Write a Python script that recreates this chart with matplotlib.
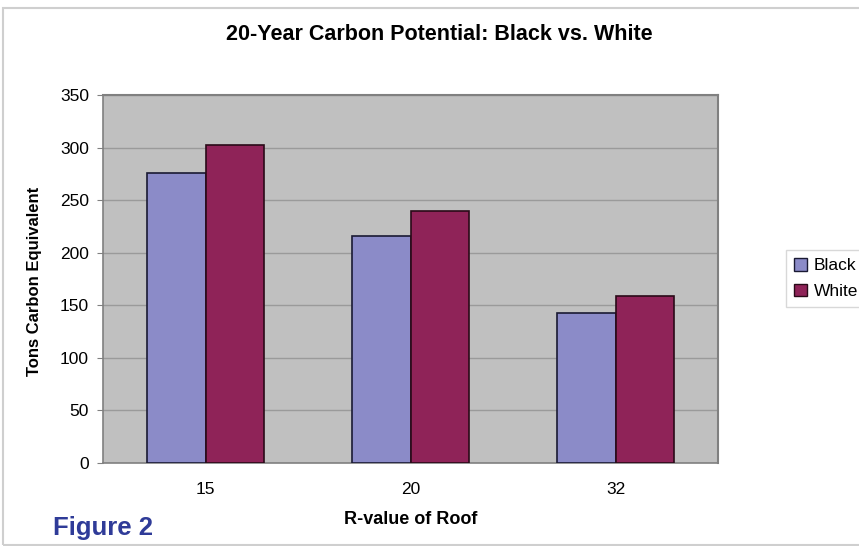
import matplotlib
matplotlib.use("Agg")
import matplotlib.pyplot as plt
import numpy as np
from matplotlib.patches import Rectangle

categories = ["15", "20", "32"]
black_vals = [276, 216, 143]
white_vals = [302, 240, 159]
series_names = ["Black", "White"]
yticks = [0, 50, 100, 150, 200, 250, 300, 350]

plt.rcParams['font.family'] = ['Liberation Sans', 'DejaVu Sans']

fig = plt.figure(figsize=(8.59, 5.46), dpi=100)
fig.patch.set_facecolor('white')
# outer border
fig.patches.append(Rectangle((3/859, 1/546), 1.2, 1 - 9/546, transform=fig.transFigure,
                             fill=False, edgecolor='#cfcfcf', linewidth=1.5))

ax = fig.add_axes([103/859, 1 - 463/546, 615/859, 368/546])
ax.set_facecolor('#c0c0c0')

x = np.arange(len(categories))
w = 0.283
ax.bar(x - w/2, black_vals, width=w, color='#8b8bc8', edgecolor='#1a1a33', linewidth=1.2,
       label=series_names[0], zorder=3)
ax.bar(x + w/2, white_vals, width=w, color='#8f2358', edgecolor='#2a0a18', linewidth=1.2,
       label=series_names[1], zorder=3)

ax.set_xlim(-0.5, 2.5)
ax.set_ylim(0, 350)
ax.set_yticks(yticks)
ax.set_xticks(x)
ax.set_xticklabels(categories)
ax.yaxis.grid(True, color='#9a9a9a', linewidth=1.0, zorder=1)
ax.tick_params(axis='y', labelsize=12.5, length=4, color='#808080', pad=6)
ax.tick_params(axis='x', labelsize=12.5, length=0, pad=14)
for s in ['top', 'right']:
    ax.spines[s].set_color('#808080')
    ax.spines[s].set_linewidth(1.5)
ax.spines['left'].set_color('#808080')
ax.spines['bottom'].set_color('#808080')
ax.spines['left'].set_linewidth(1.2)
ax.spines['bottom'].set_linewidth(1.2)

fig.text(439/859, 1 - 35/546, "20-Year Carbon Potential: Black vs. White", ha='center', va='center',
         fontsize=15.5, fontweight='bold')
fig.text(411/859, 1 - 519/546, "R-value of Roof", ha='center', va='center',
         fontsize=13, fontweight='bold')
fig.text(35/859, 1 - 281/546, "Tons Carbon Equivalent", ha='center', va='center',
         rotation=90, fontsize=12, fontweight='bold')
fig.text(53/859, 1 - 528/546, "Figure 2", ha='left', va='center',
         fontsize=18.5, fontweight='heavy', color='#2f3b98')

leg = fig.legend(loc='upper left', bbox_to_anchor=(786/859, 1 - 250/546), fontsize=12.5,
                 frameon=True, fancybox=False, edgecolor='#cfcfcf', handlelength=0.75,
                 handleheight=0.75, handletextpad=0.4, borderpad=0.45, labelspacing=0.6,
                 borderaxespad=0)
for h in leg.legend_handles:
    h.set_linewidth(1.0)

fig.savefig("out.png", dpi=100, facecolor='white')
